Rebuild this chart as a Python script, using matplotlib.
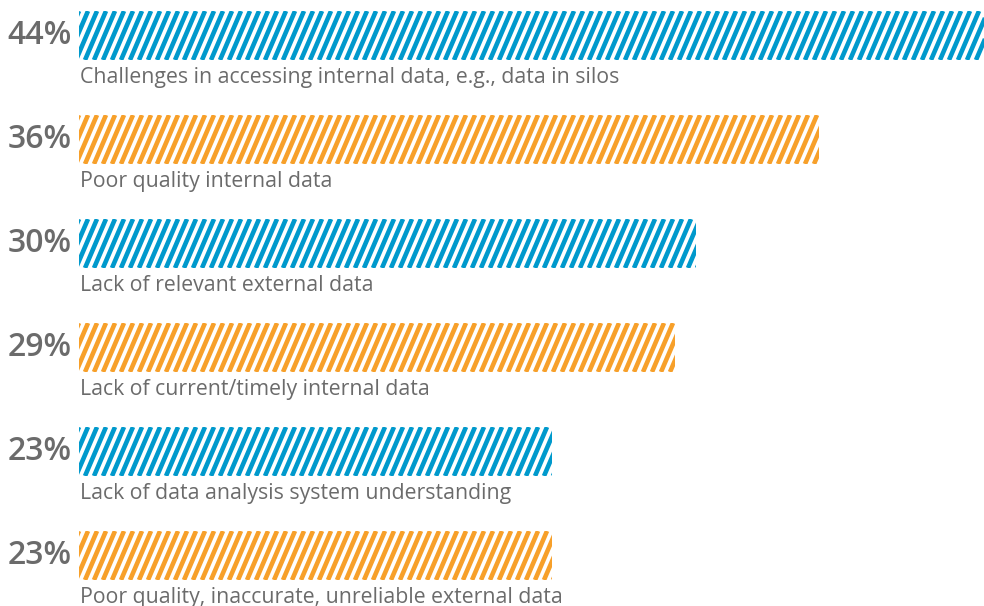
import matplotlib
matplotlib.use("Agg")
import matplotlib.pyplot as plt
from matplotlib.collections import LineCollection
import numpy as np

values = [44, 36, 30, 29, 23, 23]
pct_labels = ["44%", "36%", "30%", "29%", "23%", "23%"]
categories = [
    "Challenges in accessing internal data, e.g., data in silos",
    "Poor quality internal data",
    "Lack of relevant external data",
    "Lack of current/timely internal data",
    "Lack of data analysis system understanding",
    "Poor quality, inaccurate, unreliable external data",
]
colors = ["#0099CC", "#F7A02A", "#0099CC", "#F7A02A", "#0099CC", "#F7A02A"]

W, H = 984, 606
fig = plt.figure(figsize=(W / 100, H / 100), dpi=100)
ax = fig.add_axes([0, 0, 1, 1])
ax.axis("off")

px_x = 905 / 44.0          # pixels per percent
px_y = 104.0               # pixels per row
x_left = -79 / px_x
ax.set_xlim(x_left, x_left + W / px_x)
top = -35.5 / px_y
ax.set_ylim(top + H / px_y, top)

bar_h = 49 / px_y
ypos = np.arange(len(values))
bars = ax.barh(ypos, values, height=bar_h, color="none", edgecolor="none")

text_color = "#6b6b6b"
for i, (b, v, c) in enumerate(zip(bars, values, colors)):
    y0 = i - bar_h / 2
    y1 = i + bar_h / 2
    shift = 21 / px_x       # horizontal shift over bar height
    period = 9.0 / px_x
    starts = np.arange(-shift - period, v + period, period)
    segs = [[(s, y1), (s + shift, y0)] for s in starts]
    lc = LineCollection(segs, colors=c, linewidths=3.3, capstyle="butt")
    ax.add_collection(lc)
    lc.set_clip_path(b)
    ax.text(-7 / px_x, i, pct_labels[i], ha="right", va="center",
            fontsize=23, fontweight="semibold", color=text_color, family="Open Sans")
    ax.text(1 / px_x, y1 + 23 / px_y, categories[i], ha="left", va="baseline",
            fontsize=15.3, color=text_color, family="Open Sans")

fig.savefig("out.png", dpi=100)
